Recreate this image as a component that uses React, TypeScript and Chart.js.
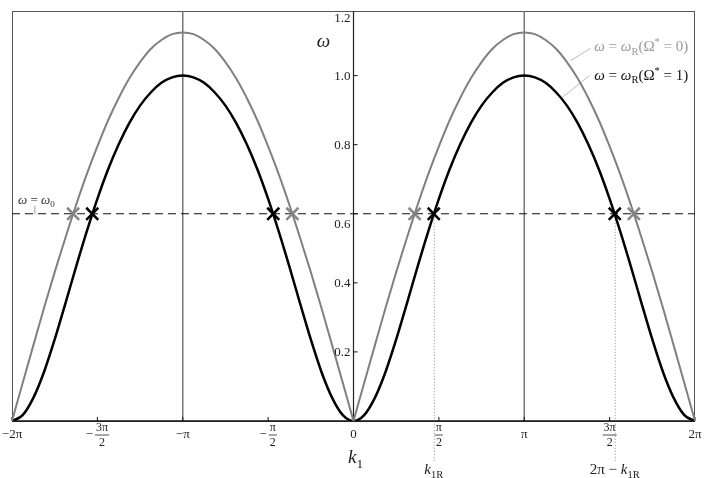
import React, { useEffect, useRef } from "react";
import { Chart, registerables } from "chart.js";

Chart.register(...registerables);

// k1 in units of pi
const K_OVER_PI = [
  -2, -1.9375, -1.875, -1.8125, -1.75, -1.6875, -1.625, -1.5625, -1.5, -1.4375, -1.375, -1.3125, -1.25, -1.1875, -1.125, -1.0625,
  -1, -0.9375, -0.875, -0.8125, -0.75, -0.6875, -0.625, -0.5625, -0.5, -0.4375, -0.375, -0.3125, -0.25, -0.1875, -0.125, -0.0625,
  0, 0.0625, 0.125, 0.1875, 0.25, 0.3125, 0.375, 0.4375, 0.5, 0.5625, 0.625, 0.6875, 0.75, 0.8125, 0.875, 0.9375,
  1, 1.0625, 1.125, 1.1875, 1.25, 1.3125, 1.375, 1.4375, 1.5, 1.5625, 1.625, 1.6875, 1.75, 1.8125, 1.875, 1.9375, 2,
];

// omega = omega_R(Omega* = 0)  (grey)
const OMEGA_R_0 = [
  0, 0.110, 0.219, 0.327, 0.431, 0.530, 0.625, 0.714, 0.795, 0.870, 0.935, 0.992, 1.039, 1.077, 1.103, 1.120,
  1.125, 1.120, 1.103, 1.077, 1.039, 0.992, 0.935, 0.870, 0.795, 0.714, 0.625, 0.530, 0.431, 0.327, 0.219, 0.110,
  0, 0.110, 0.219, 0.327, 0.431, 0.530, 0.625, 0.714, 0.795, 0.870, 0.935, 0.992, 1.039, 1.077, 1.103, 1.120,
  1.125, 1.120, 1.103, 1.077, 1.039, 0.992, 0.935, 0.870, 0.795, 0.714, 0.625, 0.530, 0.431, 0.327, 0.219, 0.110, 0,
];

// omega = omega_R(Omega* = 1)  (black)
const OMEGA_R_1 = [
  0, 0.017, 0.067, 0.142, 0.236, 0.340, 0.446, 0.548, 0.643, 0.728, 0.801, 0.863, 0.913, 0.951, 0.979, 0.995,
  1.0, 0.995, 0.979, 0.951, 0.913, 0.863, 0.801, 0.728, 0.643, 0.548, 0.446, 0.340, 0.236, 0.142, 0.067, 0.017,
  0, 0.017, 0.067, 0.142, 0.236, 0.340, 0.446, 0.548, 0.643, 0.728, 0.801, 0.863, 0.913, 0.951, 0.979, 0.995,
  1.0, 0.995, 0.979, 0.951, 0.913, 0.863, 0.801, 0.728, 0.643, 0.548, 0.446, 0.340, 0.236, 0.142, 0.067, 0.017, 0,
];

const OMEGA_0 = 0.6;
const GREY_CROSS_K = [-1.642, -0.358, 0.358, 1.642];
const BLACK_CROSS_K = [-1.53, -0.47, 0.47, 1.53];
const K1R = 0.47;

const X_TICKS = [-2, -1.5, -1, -0.5, 0, 0.5, 1, 1.5, 2];
const X_TICK_LABELS = [
  { text: "−2π" },
  { minus: true, num: "3π", den: "2" },
  { text: "−π" },
  { minus: true, num: "π", den: "2" },
  { text: "0" },
  { num: "π", den: "2" },
  { text: "π" },
  { num: "3π", den: "2" },
  { text: "2π" },
];
const Y_TICKS = [0.2, 0.4, 0.6, 0.8, 1.0, 1.2];
const Y_TICK_LABELS = ["0.2", "0.4", "0.6", "0.8", "1.0", "1.2"];

const Y_MAX = 1.187;
const FONT = '"Liberation Serif", "DejaVu Serif", serif';

type Seg = { t: string; it?: boolean; sub?: boolean; sup?: boolean };

function richWidth(ctx: CanvasRenderingContext2D, segs: Seg[], size: number) {
  let w = 0;
  for (const s of segs) {
    const sz = s.sub || s.sup ? size * 0.7 : size;
    ctx.font = `${s.it ? "italic " : ""}${sz}px ${FONT}`;
    w += ctx.measureText(s.t).width;
  }
  return w;
}

function drawRich(
  ctx: CanvasRenderingContext2D,
  segs: Seg[],
  x: number,
  y: number,
  size: number,
  color: string,
  align: "left" | "center" | "right" = "left"
) {
  const w = richWidth(ctx, segs, size);
  let cx = align === "left" ? x : align === "center" ? x - w / 2 : x - w;
  ctx.save();
  ctx.fillStyle = color;
  ctx.textBaseline = "alphabetic";
  ctx.textAlign = "left";
  for (const s of segs) {
    const sz = s.sub || s.sup ? size * 0.7 : size;
    ctx.font = `${s.it ? "italic " : ""}${sz}px ${FONT}`;
    const dy = s.sub ? size * 0.25 : s.sup ? -size * 0.4 : 0;
    ctx.fillText(s.t, cx, y + dy);
    cx += ctx.measureText(s.t).width;
  }
  ctx.restore();
}

const decorPlugin = {
  id: "decor",
  beforeDatasetsDraw(chart: any) {
    const { ctx, chartArea } = chart;
    const { left, right, top, bottom } = chartArea;
    const X = (v: number) => chart.scales.x.getPixelForValue(v);
    const Y = (v: number) => chart.scales.y.getPixelForValue(v);
    ctx.save();
    // box
    ctx.strokeStyle = "#555";
    ctx.lineWidth = 1;
    ctx.strokeRect(left + 0.5, top + 0.5, right - left - 1, bottom - top);
    // vertical lines at ±π
    ctx.strokeStyle = "#777";
    ctx.lineWidth = 1.5;
    for (const v of [-1, 1]) {
      ctx.beginPath();
      ctx.moveTo(X(v), top);
      ctx.lineTo(X(v), bottom);
      ctx.stroke();
    }
    // central y axis
    ctx.strokeStyle = "#222";
    ctx.lineWidth = 1.2;
    ctx.beginPath();
    ctx.moveTo(X(0), top);
    ctx.lineTo(X(0), bottom);
    ctx.stroke();
    // dashed omega0 line
    ctx.strokeStyle = "#111";
    ctx.lineWidth = 1.1;
    ctx.setLineDash([8, 5]);
    ctx.beginPath();
    ctx.moveTo(left, Y(OMEGA_0));
    ctx.lineTo(right, Y(OMEGA_0));
    ctx.stroke();
    // dotted verticals at k1R, 2π - k1R
    ctx.strokeStyle = "#888";
    ctx.lineWidth = 1;
    ctx.setLineDash([1, 2]);
    for (const v of [K1R, 2 - K1R]) {
      ctx.beginPath();
      ctx.moveTo(X(v) + 0.5, Y(OMEGA_0));
      ctx.lineTo(X(v) + 0.5, bottom + 40);
      ctx.stroke();
    }
    ctx.setLineDash([]);
    // bottom axis
    ctx.strokeStyle = "#111";
    ctx.lineWidth = 1.5;
    ctx.beginPath();
    ctx.moveTo(left, bottom);
    ctx.lineTo(right, bottom);
    ctx.stroke();
    // x ticks (inward)
    ctx.lineWidth = 1;
    for (const v of X_TICKS) {
      ctx.beginPath();
      ctx.moveTo(X(v), bottom);
      ctx.lineTo(X(v), bottom - 4);
      ctx.stroke();
    }
    // y ticks on central axis
    for (const v of Y_TICKS) {
      const py = Y(v);
      if (py < top + 2) continue;
      ctx.beginPath();
      ctx.moveTo(X(0), py);
      ctx.lineTo(X(0) + 4, py);
      ctx.stroke();
    }
    // leader lines
    ctx.strokeStyle = "#bbb";
    ctx.lineWidth = 1;
    const leaders = [
      [1.271, 1.043, 1.388, 1.079],
      [1.2245, 0.9376, 1.382, 1.0],
    ];
    for (const [x1, y1, x2, y2] of leaders) {
      ctx.beginPath();
      ctx.moveTo(X(x1), Y(y1));
      ctx.lineTo(X(x2), Y(y2));
      ctx.stroke();
    }
    ctx.strokeStyle = "#999";
    ctx.beginPath();
    ctx.moveTo(X(-1.866), Y(OMEGA_0));
    ctx.lineTo(X(-1.866), Y(OMEGA_0) - 8);
    ctx.stroke();
    ctx.restore();
  },
  afterDatasetsDraw(chart: any) {
    const { ctx, chartArea } = chart;
    const { top, bottom } = chartArea;
    const X = (v: number) => chart.scales.x.getPixelForValue(v);
    const Y = (v: number) => chart.scales.y.getPixelForValue(v);
    ctx.save();
    // y tick labels
    ctx.font = `13px ${FONT}`;
    ctx.fillStyle = "#222";
    ctx.textAlign = "right";
    ctx.textBaseline = "middle";
    Y_TICKS.forEach((v, i) => {
      let py = Y(v) + 1;
      if (v === OMEGA_0) py += 10;
      if (py < top + 8) py = top + 8;
      ctx.fillText(Y_TICK_LABELS[i], X(0) - 3, py);
    });
    // x tick labels
    X_TICKS.forEach((v, i) => {
      const lab: any = X_TICK_LABELS[i];
      const px = X(v);
      const cy = bottom + 14;
      ctx.fillStyle = "#222";
      ctx.textBaseline = "middle";
      if (lab.text) {
        ctx.font = `13px ${FONT}`;
        ctx.textAlign = "center";
        ctx.fillText(lab.text, px, cy);
      } else {
        ctx.font = `12px ${FONT}`;
        const fw = Math.max(ctx.measureText(lab.num).width, ctx.measureText(lab.den).width) + 2;
        ctx.font = `13px ${FONT}`;
        const mw = lab.minus ? ctx.measureText("−").width + 2 : 0;
        const start = px - (mw + fw) / 2;
        if (lab.minus) {
          ctx.textAlign = "left";
          ctx.fillText("−", start, cy);
        }
        const fc = start + mw + fw / 2;
        ctx.font = `12px ${FONT}`;
        ctx.textAlign = "center";
        ctx.fillText(lab.num, fc, cy - 7);
        ctx.fillText(lab.den, fc, cy + 7.5);
        ctx.strokeStyle = "#222";
        ctx.lineWidth = 0.8;
        ctx.beginPath();
        ctx.moveTo(fc - fw / 2, cy);
        ctx.lineTo(fc + fw / 2, cy);
        ctx.stroke();
      }
    });
    // axis labels
    drawRich(ctx, [{ t: "ω", it: true }], X(0) - 30, top + 36, 19, "#222", "center");
    drawRich(ctx, [{ t: "k", it: true }, { t: "1", sub: true }], X(0) + 2, bottom + 42, 19, "#222", "center");
    // k1R labels
    drawRich(ctx, [{ t: "k", it: true }, { t: "1R", sub: true }], X(K1R), bottom + 53, 15, "#222", "center");
    drawRich(
      ctx,
      [{ t: "2π − " }, { t: "k", it: true }, { t: "1R", sub: true }],
      X(2 - K1R),
      bottom + 53,
      15,
      "#222",
      "center"
    );
    // omega0 label
    drawRich(
      ctx,
      [{ t: "ω", it: true }, { t: " = " }, { t: "ω", it: true }, { t: "0", sub: true }],
      X(-1.965),
      Y(0.64) + 4,
      13,
      "#333",
      "left"
    );
    // legend labels
    drawRich(
      ctx,
      [{ t: "ω", it: true }, { t: " = " }, { t: "ω", it: true }, { t: "R", sub: true }, { t: "(Ω" }, { t: "*", sup: true }, { t: " = 0)" }],
      X(1.41),
      Y(1.085) + 5,
      15,
      "#9a9a9a",
      "left"
    );
    drawRich(
      ctx,
      [{ t: "ω", it: true }, { t: " = " }, { t: "ω", it: true }, { t: "R", sub: true }, { t: "(Ω" }, { t: "*", sup: true }, { t: " = 1)" }],
      X(1.41),
      Y(1.003) + 5,
      15,
      "#111",
      "left"
    );
    ctx.restore();
  },
};

export default function App() {
  const ref = useRef<HTMLCanvasElement | null>(null);
  useEffect(() => {
    if (!ref.current) return;
    const pts0 = K_OVER_PI.map((k, i) => ({ x: k, y: OMEGA_R_0[i] }));
    const greyStyle = {
      borderColor: "#808080",
      borderWidth: 2,
      pointRadius: 0,
      cubicInterpolationMode: "monotone",
    };
    const chart = new Chart(ref.current, {
      type: "line",
      data: {
        datasets: [
          { data: pts0.slice(0, 33), ...greyStyle },
          { data: pts0.slice(32), ...greyStyle },
          {
            data: K_OVER_PI.map((k, i) => ({ x: k, y: OMEGA_R_1[i] })),
            borderColor: "#000",
            borderWidth: 2.5,
            pointRadius: 0,
            cubicInterpolationMode: "monotone",
          },
          {
            data: GREY_CROSS_K.map((k) => ({ x: k, y: OMEGA_0 })),
            showLine: false,
            pointStyle: "crossRot",
            pointRadius: 8.5,
            borderColor: "#888",
            borderWidth: 2.5,
          },
          {
            data: BLACK_CROSS_K.map((k) => ({ x: k, y: OMEGA_0 })),
            showLine: false,
            pointStyle: "crossRot",
            pointRadius: 8.5,
            borderColor: "#000",
            borderWidth: 2.5,
          },
        ],
      } as any,
      options: {
        responsive: false,
        animation: false,
        events: [],
        layout: { padding: { left: 12, right: 8, top: 2, bottom: 57 } },
        plugins: { legend: { display: false }, tooltip: { enabled: false } },
        scales: {
          x: { type: "linear", min: -2, max: 2, display: false },
          y: { type: "linear", min: 0, max: Y_MAX, display: false },
        },
      } as any,
      plugins: [decorPlugin],
    });
    return () => chart.destroy();
  }, []);
  return (
    <div style={{ position: "absolute", left: 0, top: 0, width: 706, height: 478, background: "#fff" }}>
      <canvas ref={ref} width={706} height={478} style={{ display: "block" }} />
    </div>
  );
}
